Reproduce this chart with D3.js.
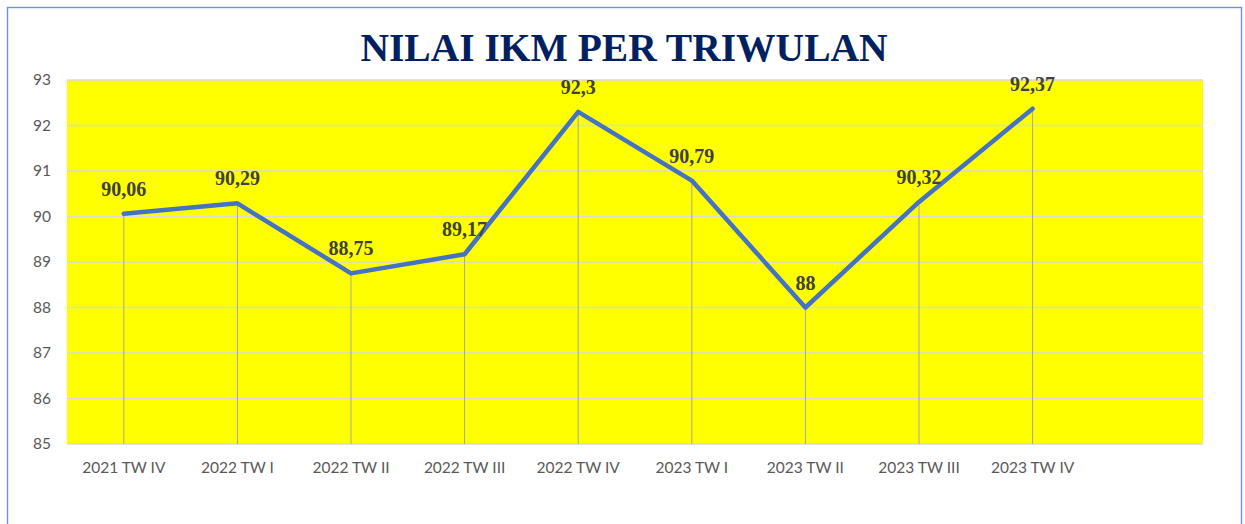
<!DOCTYPE html>
<html><head><meta charset="utf-8">
<script src="https://cdn.jsdelivr.net/npm/d3@7"></script>
<style>html,body{margin:0;padding:0;background:#fff;}svg{display:block;}</style>
</head><body>
<svg id="c" width="1245" height="524"></svg>
<script>
const categories = ["2021 TW IV","2022 TW I","2022 TW II","2022 TW III","2022 TW IV","2023 TW I","2023 TW II","2023 TW III","2023 TW IV",""];
const values = [90.06, 90.29, 88.75, 89.17, 92.3, 90.79, 88, 90.32, 92.37];
const valueLabels = ["90,06","90,29","88,75","89,17","92,3","90,79","88","90,32","92,37"];
const yTicks = [85,86,87,88,89,90,91,92,93];
const title = "NILAI IKM PER TRIWULAN";

const svg = d3.select("#c");
const plot = {left: 67, right: 1203, top: 80, bottom: 444};

svg.append("rect").attr("x", 7.5).attr("y", 7.5).attr("width", 1234).attr("height", 530)
  .attr("fill", "#fff").attr("stroke", "#6f94d6").attr("stroke-width", 1.4);

const x = d3.scaleBand().domain(categories.map((d,i)=>i)).range([plot.left, plot.right]).padding(0);
const y = d3.scaleLinear().domain([85, 93]).range([plot.bottom, plot.top]);
const cx = i => x(i) + x.bandwidth()/2;

svg.append("rect").attr("x", plot.left).attr("y", plot.top)
  .attr("width", plot.right - plot.left).attr("height", plot.bottom - plot.top).attr("fill", "#ffff00");

// gridlines
svg.append("g").selectAll("line").data(yTicks).join("line")
  .attr("x1", plot.left).attr("x2", plot.right)
  .attr("y1", d => y(d)).attr("y2", d => y(d))
  .attr("stroke", "#d9d9d9").attr("stroke-width", 1.3);

// y axis labels
const yAxis = d3.axisLeft(y).tickValues(yTicks).tickSize(0).tickPadding(0).tickFormat(d3.format("d"));
const ya = svg.append("g").attr("transform", `translate(${51},0)`).call(yAxis);
ya.select(".domain").remove();
ya.selectAll("text").attr("font-family", "Lato, 'Open Sans', sans-serif").attr("font-size", 15.5).attr("fill", "#595959");

// x axis labels
const xAxis = d3.axisBottom(x).tickSize(0).tickPadding(0).tickFormat(i => categories[i]);
const xa = svg.append("g").attr("transform", `translate(0,${462})`).call(xAxis);
xa.select(".domain").remove();
xa.selectAll("text").attr("font-family", "Lato, 'Open Sans', sans-serif").attr("font-size", 15.5).attr("fill", "#595959");

// drop lines
svg.append("g").selectAll("line").data(values).join("line")
  .attr("x1", (d,i) => cx(i)).attr("x2", (d,i) => cx(i))
  .attr("y1", d => y(d)).attr("y2", plot.bottom)
  .attr("stroke", "#a6a6a6").attr("stroke-width", 1);

// line
const line = d3.line().x((d,i) => cx(i)).y(d => y(d));
svg.append("path").datum(values).attr("d", line)
  .attr("fill", "none").attr("stroke", "#4472c4").attr("stroke-width", 4.5)
  .attr("stroke-linejoin", "round").attr("stroke-linecap", "round");

// labels
svg.append("g").selectAll("text").data(values).join("text")
  .attr("x", (d,i) => cx(i)).attr("y", d => y(d) - 18)
  .attr("text-anchor", "middle")
  .attr("font-family", "'Liberation Serif', 'Times New Roman', serif")
  .attr("font-weight", "bold").attr("font-size", 20).attr("fill", "#404040")
  .text((d,i) => valueLabels[i]);

// title
svg.append("text").attr("x", 624).attr("y", 61).attr("text-anchor", "middle")
  .attr("font-family", "'Liberation Serif', 'Times New Roman', serif")
  .attr("font-weight", "bold").attr("font-size", 39.5).attr("fill", "#002060")
  .text(title);
</script>
</body></html>
